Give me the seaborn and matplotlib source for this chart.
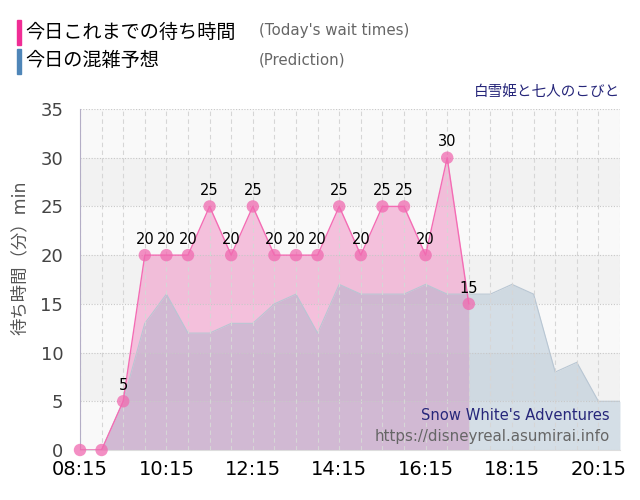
import numpy as np
import pandas as pd
import matplotlib
matplotlib.use('Agg')
import matplotlib.pyplot as plt
import seaborn as sns

# data
actual_times = ['08:15', '08:45', '09:15', '09:45', '10:15', '10:45', '11:15', '11:45',
                '12:15', '12:45', '13:15', '13:45', '14:15', '14:45', '15:15', '15:45',
                '16:15', '16:45', '17:15']
actual_wait = [0, 0, 5, 20, 20, 20, 25, 20, 25, 20, 20, 20, 25, 20, 25, 25, 20, 30, 15]

pred_times = actual_times + ['17:45', '18:15', '18:45', '19:15', '19:45', '20:15', '20:45']
pred_wait = [0, 0, 5, 13, 16, 12, 12, 13, 13, 15, 16, 12, 17, 16, 16, 16,
             17, 16, 16, 16, 17, 16, 8, 9, 5, 5]

tick_labels = ['08:15', '10:15', '12:15', '14:15', '16:15', '18:15', '20:15']
y_ticks = [0, 5, 10, 15, 20, 25, 30, 35]


def to_hours(s):
    h, m = s.split(':')
    return int(h) + int(m) / 60


actual = pd.DataFrame({'t': [to_hours(s) for s in actual_times], 'wait': actual_wait})
pred = pd.DataFrame({'t': [to_hours(s) for s in pred_times], 'wait': pred_wait})

sns.set_style('white')
plt.rcParams['font.family'] = ['DejaVu Sans', 'Noto Sans CJK JP']

fig = plt.figure(figsize=(6.4, 5), dpi=100)
ax = fig.add_axes([0.125, 0.1, 0.84375, 0.682])

# background bands
for i, y0 in enumerate(range(0, 35, 5)):
    ax.axhspan(y0, y0 + 5, color='#f9f9f9' if i % 2 == 0 else '#f2f2f2', zorder=0, lw=0)

# today's wait times (fill underneath)
ax.fill_between(actual['t'], 0, actual['wait'], color='#f189c1', alpha=0.5, zorder=1, lw=0)

# prediction area, translucent on top of the pink
ax.fill_between(pred['t'], 0, pred['wait'], color='#90acc3', alpha=0.35, zorder=1.2, lw=0)
sns.lineplot(data=pred, x='t', y='wait', ax=ax, color='#b8c6d3', linewidth=0.8, zorder=1.3)

sns.lineplot(data=actual, x='t', y='wait', ax=ax, color='#f46cb4', linewidth=1, zorder=3)
sns.scatterplot(data=actual, x='t', y='wait', ax=ax, color='#f06ab0', alpha=0.75,
                s=80, edgecolor='none', zorder=4, clip_on=False)

for t, w in zip(actual['t'], actual['wait']):
    if w > 0:
        ax.annotate(str(w), (t, w), xytext=(0, 6), textcoords='offset points',
                    ha='center', va='bottom', fontsize=10.5, color='black', zorder=5)

ax.set_xlim(to_hours('08:15'), to_hours('20:45'))
ax.set_ylim(0, 35)
ax.set_xticks([to_hours(s) for s in tick_labels])
ax.set_xticklabels(tick_labels, fontsize=14, color='black')
ax.set_xticks(np.arange(to_hours('08:45'), 20.8, 0.5), minor=True)
ax.set_yticks(y_ticks)
ax.set_yticklabels([str(v) for v in y_ticks], fontsize=13, color='#444444')
ax.tick_params(axis='x', which='major', length=6, color='#dddddd', pad=1)
ax.tick_params(axis='x', which='minor', length=0)
ax.tick_params(axis='y', length=0, pad=12)
ax.set_xlabel('')
ax.set_ylabel('')

ax.set_axisbelow('line')
ax.xaxis.grid(True, which='both', color='#d6d6d6', linestyle=(0, (4, 3)), linewidth=0.8)
ax.yaxis.grid(True, color='#c8c8c8', linestyle=(0, (1, 1.5)), linewidth=0.8)

for side in ['top', 'right']:
    ax.spines[side].set_visible(False)
ax.spines['left'].set_color('#b4aec6')
ax.spines['bottom'].set_color('#dddddd')

# y label
fig.text(20 / 640, 1 - 258 / 500, '待ち時間（分）min', rotation=90, ha='center', va='center',
         fontsize=12.5, color='#555555')

# legend header
fig.patches.append(plt.Rectangle((17 / 640, 1 - 45 / 500), 4 / 640, 25 / 500,
                                 transform=fig.transFigure, color='#f02d95', zorder=5))
fig.patches.append(plt.Rectangle((17 / 640, 1 - 74 / 500), 4 / 640, 25 / 500,
                                 transform=fig.transFigure, color='#4f86b8', zorder=5))
fig.text(25 / 640, 1 - 32 / 500, '今日これまでの待ち時間', ha='left', va='center',
         fontsize=13.8, color='black')
fig.text(25 / 640, 1 - 61 / 500, '今日の混雑予想', ha='left', va='center',
         fontsize=13.8, color='black')
fig.text(259 / 640, 1 - 31 / 500, "(Today's wait times)", ha='left', va='center',
         fontsize=10.8, color='#666666')
fig.text(259 / 640, 1 - 60 / 500, '(Prediction)', ha='left', va='center',
         fontsize=10.8, color='#666666')

# title
fig.text(620 / 640, 1 - 91 / 500, '白雪姫と七人のこびと', ha='right', va='center',
         fontsize=10.5, color='#26267a')

# watermark
fig.text(610 / 640, 1 - 415 / 500, "Snow White's Adventures", ha='right', va='center',
         fontsize=10.6, color='#26267a')
fig.text(610 / 640, 1 - 436 / 500, 'https://disneyreal.asumirai.info', ha='right', va='center',
         fontsize=10.8, color='#666666')

fig.savefig('out.png', dpi=100)
